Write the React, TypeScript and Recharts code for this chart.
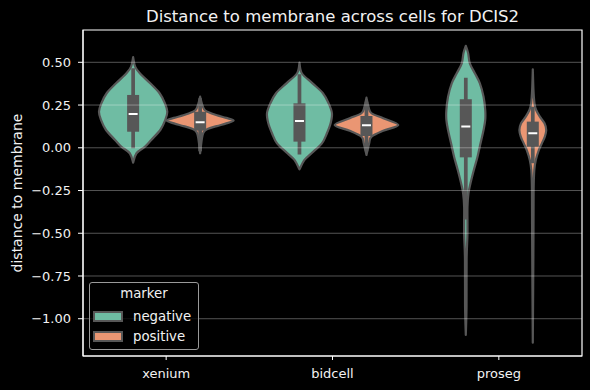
import React from 'react';
import { ComposedChart, Bar, XAxis, YAxis, ReferenceLine, ReferenceArea } from 'recharts';

const categories = ['xenium', 'bidcell', 'proseg'];
const markers = ['negative', 'positive'];
const yTicks = [-1, -0.75, -0.5, -0.25, 0, 0.25, 0.5];
const yDomain = [-1.218, 0.689];

// violin outlines, top to bottom: [value, half width as share of the slot]
const xeniumNeg = [[0.53, 0], [0.475, 0.06], [0.436, 0.2], [0.377, 0.51], [0.319, 0.79], [0.26, 0.95], [0.211, 1.02], [0.163, 0.96], [0.104, 0.81], [0.046, 0.54], [0.006, 0.35], [-0.032, 0.1], [-0.087, 0]];
const xeniumPos = [[0.299, 0], [0.26, 0.05], [0.225, 0.12], [0.211, 0.22], [0.19, 0.5], [0.175, 0.78], [0.159, 1.0], [0.143, 0.78], [0.127, 0.5], [0.11, 0.22], [0.09, 0.1], [0.05, 0.05], [-0.032, 0]];
const bidcellNeg = [[0.498, 0], [0.436, 0.07], [0.377, 0.39], [0.319, 0.7], [0.26, 0.87], [0.202, 0.97], [0.143, 0.93], [0.085, 0.82], [0.026, 0.67], [-0.032, 0.36], [-0.071, 0.15], [-0.126, 0]];
const bidcellPos = [[0.293, 0], [0.24, 0.06], [0.202, 0.15], [0.173, 0.5], [0.133, 0.95], [0.1, 0.5], [0.065, 0.15], [0.026, 0.08], [-0.042, 0]];
const prosegNeg = [[0.596, 0], [0.553, 0.07], [0.494, 0.12], [0.436, 0.27], [0.377, 0.42], [0.299, 0.53], [0.221, 0.58], [0.163, 0.58], [0.104, 0.53], [0.026, 0.44], [-0.052, 0.35], [-0.13, 0.24], [-0.208, 0.14], [-0.266, 0.08], [-0.345, 0.05], [-0.5, 0.05], [-0.65, 0.025], [-0.93, 0.022], [-1.095, 0]];
const prosegPos = [[0.459, 0], [0.338, 0.02], [0.26, 0.05], [0.221, 0.1], [0.182, 0.21], [0.143, 0.35], [0.104, 0.4], [0.065, 0.36], [0.026, 0.27], [-0.013, 0.18], [-0.071, 0.09], [-0.13, 0.045], [-0.247, 0.025], [-0.54, 0.02], [-1.14, 0]];

// inner box: [whisker low, q1, median, q3, whisker high]
const xeniumNegBox = [-0.003, 0.094, 0.198, 0.309, 0.465];
const xeniumPosBox = [-0.02, 0.1, 0.149, 0.211, 0.29];
const bidcellNegBox = [-0.04, 0.036, 0.157, 0.26, 0.43];
const bidcellPosBox = [-0.02, 0.069, 0.132, 0.186, 0.27];
const prosegNegBox = [-0.42, -0.056, 0.124, 0.284, 0.41];
const prosegPosBox = [-0.09, 0.006, 0.085, 0.153, 0.24];

const profiles: any = {
  xenium: { negative: xeniumNeg, positive: xeniumPos },
  bidcell: { negative: bidcellNeg, positive: bidcellPos },
  proseg: { negative: prosegNeg, positive: prosegPos },
};
const boxes: any = {
  xenium: { negative: xeniumNegBox, positive: xeniumPosBox },
  bidcell: { negative: bidcellNegBox, positive: bidcellPosBox },
  proseg: { negative: prosegNegBox, positive: prosegPosBox },
};

const colors: any = { negative: '#6fbca3', positive: '#ea9673' };
const edge = '#575757';
const ink = '#f2f2f2';
const font = '"DejaVu Sans", sans-serif';

const rows = categories.map((c) => {
  const row: any = { category: c };
  markers.forEach((m) => {
    const p = profiles[c][m];
    row[m] = [p[p.length - 1][0], p[0][0]];
  });
  return row;
});

const fmt = (v: number) => (v < 0 ? '\u2212' : '') + Math.abs(v).toFixed(2);

function smooth(pts: number[][]) {
  let d = '';
  for (let i = 0; i < pts.length - 1; i++) {
    const p0 = pts[i - 1] || pts[i];
    const p1 = pts[i];
    const p2 = pts[i + 1];
    const p3 = pts[i + 2] || p2;
    const c1x = p1[0] + (p2[0] - p0[0]) / 6;
    const c1y = p1[1] + (p2[1] - p0[1]) / 6;
    const c2x = p2[0] - (p3[0] - p1[0]) / 6;
    const c2y = p2[1] - (p3[1] - p1[1]) / 6;
    d += ` C${c1x},${c1y} ${c2x},${c2y} ${p2[0]},${p2[1]}`;
  }
  return d;
}

function Violin(props: any) {
  const { x, y, width, height, payload, marker } = props;
  const prof = profiles[payload.category][marker];
  const box = boxes[payload.category][marker];
  const [lo, hi] = payload[marker];
  const top = Math.min(y, y + height);
  const bot = Math.max(y, y + height);
  // linear map inside the bar that the y scale placed for [lo, hi]
  const py = (v: number) => top + ((hi - v) / (hi - lo)) * (bot - top);
  const cx = x + width / 2;
  const half = width / 2;
  const right = prof.map(([v, f]: number[]) => [cx + f * half, py(v)]);
  const left = prof.map(([v, f]: number[]) => [cx - f * half, py(v)]).reverse();
  const d = `M${right[0][0]},${right[0][1]}` + smooth(right) + ` L${left[0][0]},${left[0][1]}` + smooth(left) + ' Z';
  return (
    <g>
      <path d={d} fill={colors[marker]} stroke={edge} strokeWidth={2.2} strokeLinejoin="round" />
      <line x1={cx} x2={cx} y1={py(box[4])} y2={py(box[0])} stroke={edge} strokeWidth={3.7} />
      <rect x={cx - 6} width={12} y={py(box[3])} height={py(box[1]) - py(box[3])} fill={edge} />
      <line x1={cx - 4.5} x2={cx + 4.5} y1={py(box[2])} y2={py(box[2])} stroke="#fff" strokeWidth={2} />
    </g>
  );
}

export default function App() {
  return (
    <div style={{ position: 'absolute', left: 0, top: 0, width: 590, height: 390, background: '#000', fontFamily: font }}>
      <div style={{ position: 'absolute', left: 83, width: 499, top: 7, textAlign: 'center', color: ink, fontSize: 16.5 }}>
        Distance to membrane across cells for DCIS2
      </div>
      <ComposedChart width={590} height={390} data={rows} margin={{ top: 30, right: 8, left: 0, bottom: 0 }} barCategoryGap="10%" barGap={0}>
        <XAxis
          dataKey="category"
          height={34}
          tickSize={4}
          tickMargin={9}
          stroke="#fff"
          tick={{ fill: ink, fontSize: 13, fontFamily: font }}
          tickLine={{ stroke: '#fff' }}
          axisLine={{ stroke: '#fff' }}
        />
        <YAxis
          type="number"
          domain={yDomain}
          ticks={yTicks}
          allowDataOverflow
          width={83}
          tickSize={5}
          tickMargin={7}
          tickFormatter={fmt}
          stroke="#fff"
          tick={{ fill: ink, fontSize: 13, fontFamily: font }}
          tickLine={{ stroke: '#fff' }}
          axisLine={{ stroke: '#fff' }}
          label={{
            content: (p: any) => {
              const vb = p.viewBox;
              const lx = vb.x + 17;
              const ly = vb.y + vb.height / 2;
              return (
                <text x={lx} y={ly} transform={`rotate(-90, ${lx}, ${ly})`} textAnchor="middle" dominantBaseline="central" fill={ink} fontSize={14} fontFamily={font}>
                  distance to membrane
                </text>
              );
            },
          }}
        />
        {markers.map((m) => (
          <Bar key={m} dataKey={m} isAnimationActive={false} shape={(p: any) => <Violin {...p} marker={m} />} />
        ))}
        {yTicks.map((t) => (
          <ReferenceLine key={t} y={t} stroke="#ffffff" strokeOpacity={0.33} strokeWidth={1} />
        ))}
        <ReferenceArea y1={yDomain[0]} y2={yDomain[1]} fill="none" stroke="#fff" strokeWidth={1.2} />
      </ComposedChart>
      <div style={{ position: 'absolute', left: 89, top: 282, width: 110, height: 68, border: '1px solid #9a9a9a', borderRadius: 3, background: 'rgba(0,0,0,0.8)', boxSizing: 'border-box', color: ink, fontSize: 13.3 }}>
        <div style={{ position: 'absolute', left: 0, right: 0, top: 3, textAlign: 'center' }}>marker</div>
        {markers.map((m, i) => (
          <div key={m} style={{ position: 'absolute', left: 3, top: 24 + i * 20, height: 18, display: 'flex', alignItems: 'center' }}>
            <span style={{ width: 30, height: 11, background: colors[m], border: `2px solid ${edge}`, boxSizing: 'border-box' }} />
            <span style={{ marginLeft: 10 }}>{m}</span>
          </div>
        ))}
      </div>
    </div>
  );
}
